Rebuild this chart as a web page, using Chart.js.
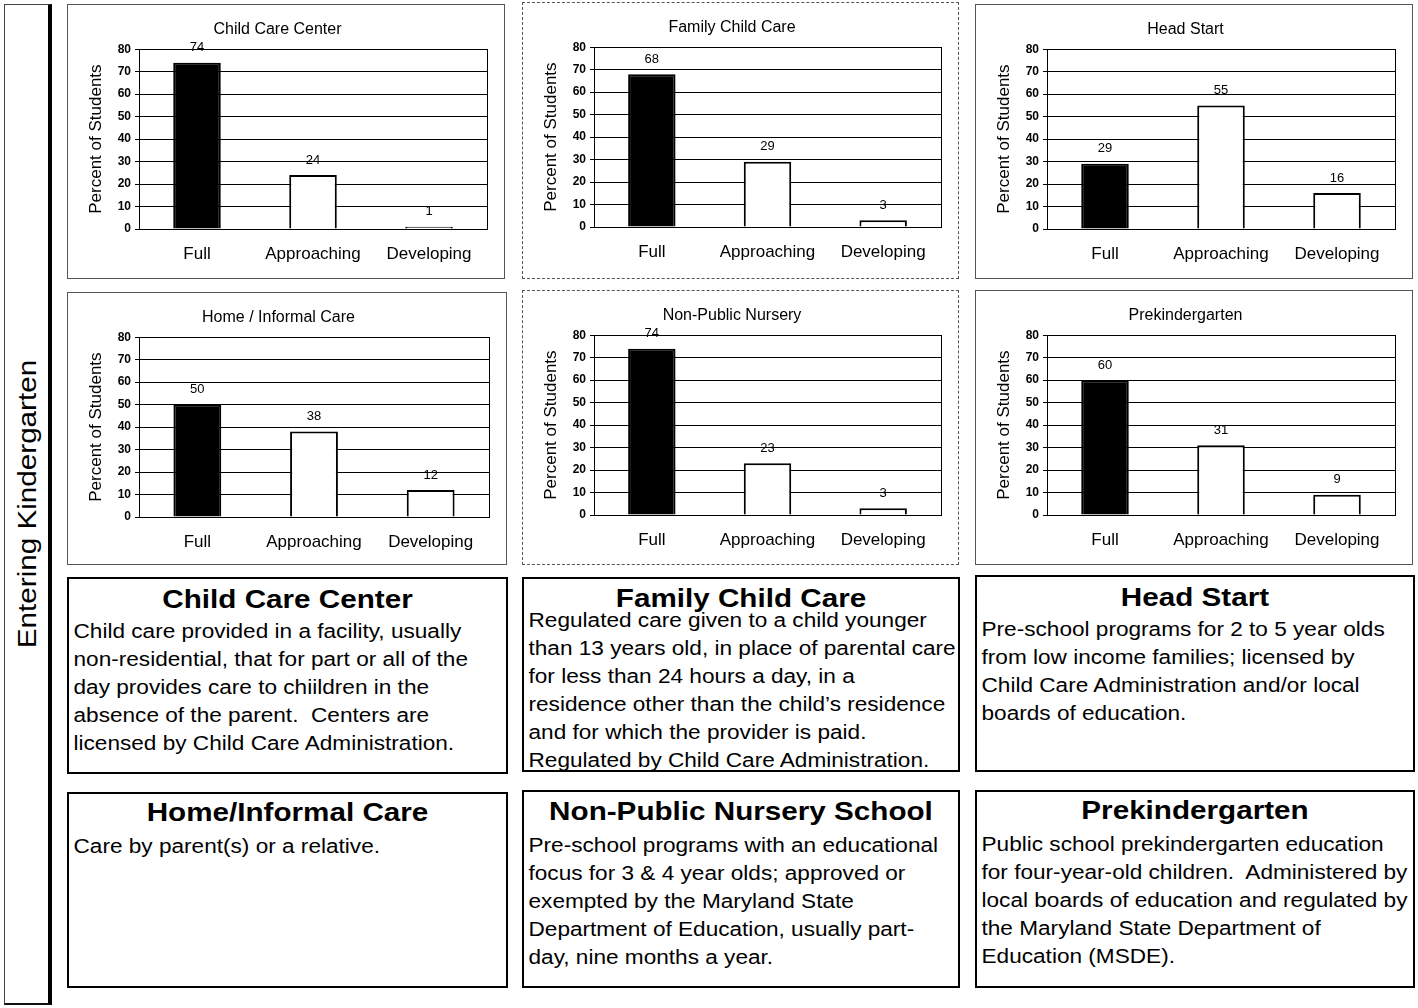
<!DOCTYPE html>
<html>
<head>
<meta charset="utf-8">
<script src="https://cdn.jsdelivr.net/npm/chart.js@4.4.1/dist/chart.umd.min.js"></script>
<style>
  body { margin: 0; background: #fff; font-family: "Liberation Sans", Arial, sans-serif; }
  #page { position: relative; width: 1418px; height: 1008px; overflow: hidden; }
  .side { position: absolute; left: 4px; top: 4px; width: 43px; height: 998px;
          border-left: 1px solid #444; border-top: 1px solid #444; border-bottom: 2px solid #111;
          border-right: 4px solid #000; }
  .side span { position: absolute; left: 50%; top: 50%;
               transform: translate(-50%, -50%) rotate(-90deg) scaleX(1.14);
               white-space: nowrap; font-size: 26px; color: #000; }
  .panel { position: absolute; border: 1px solid #555; box-sizing: border-box; }
  .panel.mid { border-style: dashed; }
  .panel canvas { position: absolute; left: 0; top: 0; }
  .box { position: absolute; border: 2px solid #000; box-sizing: border-box; color: #000; }
  .box h2 { margin: 0; font-size: 26px; font-weight: bold; text-align: center; white-space: nowrap;
            transform: scaleX(1.14); transform-origin: center; }
  .box p { margin: 0; padding-left: 4px; font-size: 20px; line-height: 28px; white-space: pre;
           transform: scaleX(1.13); transform-origin: left; }
</style>
</head>
<body>
<div id="page">
  <div class="side"><span>Entering Kindergarten</span></div>
</div>
<script>
const categories = ['Full', 'Approaching', 'Developing'];
const chartTitles = ['Child Care Center', 'Family Child Care', 'Head Start',
                     'Home / Informal Care', 'Non-Public Nursery', 'Prekindergarten'];
const childCareCenter = [74, 24, 1];
const familyChildCare = [68, 29, 3];
const headStart = [29, 55, 16];
const homeInformal = [50, 38, 12];
const nonPublicNursery = [74, 23, 3];
const prekindergarten = [60, 31, 9];
const seriesValues = [childCareCenter, familyChildCare, headStart, homeInformal, nonPublicNursery, prekindergarten];
const yMin = 0, yMax = 80, yStep = 10;

// panel boxes: left, top, width, height
const panels = [
  [67, 4, 438, 275], [522, 2, 437, 277], [975, 4, 438, 275],
  [67, 292, 440, 273], [522, 290, 437, 275], [975, 290, 438, 275]
];

const boxTitles = ['Child Care Center', 'Family Child Care', 'Head Start',
                   'Home/Informal Care', 'Non-Public Nursery School', 'Prekindergarten'];
const boxLines = [
  ['Child care provided in a facility, usually', 'non-residential, that for part or all of the',
   'day provides care to chiildren in the', 'absence of the parent.  Centers are',
   'licensed by Child Care Administration.'],
  ['Regulated care given to a child younger', 'than 13 years old, in place of parental care',
   'for less than 24 hours a day, in a', 'residence other than the child\u2019s residence',
   'and for which the provider is paid.', 'Regulated by Child Care Administration.'],
  ['Pre-school programs for 2 to 5 year olds', 'from low income families; licensed by',
   'Child Care Administration and/or local', 'boards of education.'],
  ['Care by parent(s) or a relative.'],
  ['Pre-school programs with an educational', 'focus for 3 & 4 year olds; approved or',
   'exempted by the Maryland State', 'Department of Education, usually part-',
   'day, nine months a year.'],
  ['Public school prekindergarten education', 'for four-year-old children.  Administered by',
   'local boards of education and regulated by', 'the Maryland State Department of',
   'Education (MSDE).']
];
// left, top, width, height, title top offset, body top offset
const boxes = [
  [67, 577, 441, 197, 4, 2], [522, 577, 438, 195, 3, -8], [975, 575, 440, 197, 4, 2],
  [67, 792, 441, 196, 2, 4], [522, 790, 438, 198, 3, 4], [975, 790, 440, 198, 2, 4]
];

const page = document.getElementById('page');
const fontFamily = '"Liberation Sans", Arial, sans-serif';

const valueLabels = {
  id: 'valueLabels',
  afterDatasetsDraw(chart) {
    const ctx = chart.ctx;
    const meta = chart.getDatasetMeta(0);
    ctx.save();
    ctx.font = '13px ' + fontFamily;
    ctx.fillStyle = '#000';
    ctx.textAlign = 'center';
    ctx.textBaseline = 'middle';
    meta.data.forEach((bar, i) => {
      ctx.fillText(chart.data.datasets[0].data[i], bar.x, bar.y - 15);
    });
    ctx.restore();
  }
};

const plotFrame = {
  id: 'plotFrame',
  afterDraw(chart) {
    const a = chart.chartArea;
    const ctx = chart.ctx;
    ctx.save();
    ctx.strokeStyle = '#000';
    ctx.lineWidth = 1;
    ctx.strokeRect(Math.round(a.left) + 0.5, Math.round(a.top) + 0.5,
                   Math.round(a.right - a.left), Math.round(a.bottom - a.top));
    ctx.restore();
  }
};

panels.forEach((p, i) => {
  const div = document.createElement('div');
  div.className = 'panel' + (i % 3 === 1 ? ' mid' : '');
  div.style.left = p[0] + 'px';
  div.style.top = p[1] + 'px';
  div.style.width = p[2] + 'px';
  div.style.height = p[3] + 'px';
  const canvas = document.createElement('canvas');
  const w = p[2] - 2, h = p[3] - 2;
  canvas.width = w;
  canvas.height = h;
  canvas.style.width = w + 'px';
  canvas.style.height = h + 'px';
  div.appendChild(canvas);
  page.appendChild(div);

  new Chart(canvas.getContext('2d'), {
    type: 'bar',
    data: {
      labels: categories,
      datasets: [{
        data: seriesValues[i],
        backgroundColor: ['#000', '#fff', '#fff'],
        borderColor: '#000',
        borderWidth: 2,
        categoryPercentage: 1,
        barPercentage: 0.41
      }]
    },
    options: {
      responsive: false,
      animation: false,
      layout: { padding: { left: 0, right: 17, top: 0, bottom: 0 } },
      plugins: {
        legend: { display: false },
        tooltip: { enabled: false },
        title: {
          display: true,
          text: chartTitles[i],
          color: '#000',
          font: { family: fontFamily, size: 16, weight: 'normal', lineHeight: 1.2 },
          padding: { top: 15, bottom: 10 }
        }
      },
      scales: {
        x: {
          grid: { display: false, drawTicks: false },
          border: { color: '#000' },
          ticks: {
            color: '#000', padding: 15,
            font: { family: fontFamily, size: 17 }
          },
          afterFit(scale) { scale.height = h - 224; }
        },
        y: {
          min: yMin, max: yMax,
          grid: { color: '#000', lineWidth: 1, tickLength: 4, tickColor: '#000' },
          border: { color: '#000' },
          ticks: {
            stepSize: yStep, color: '#000', padding: 4,
            font: { family: fontFamily, size: 12, weight: 'bold' }
          },
          title: {
            display: true,
            text: 'Percent of Students',
            color: '#000',
            font: { family: fontFamily, size: 17 },
            padding: { top: 18, bottom: 0 }
          },
          afterFit(scale) { scale.width = 71; }
        }
      }
    },
    plugins: [valueLabels, plotFrame]
  });
});

boxes.forEach((b, i) => {
  const div = document.createElement('div');
  div.className = 'box';
  div.style.left = b[0] + 'px';
  div.style.top = b[1] + 'px';
  div.style.width = b[2] + 'px';
  div.style.height = b[3] + 'px';
  const h2 = document.createElement('h2');
  h2.textContent = boxTitles[i];
  h2.style.marginTop = b[4] + 'px';
  h2.style.lineHeight = '32px';
  const p = document.createElement('p');
  p.textContent = boxLines[i].join('\n');
  p.style.marginTop = b[5] + 'px';
  div.appendChild(h2);
  div.appendChild(p);
  page.appendChild(div);
});
</script>
</body>
</html>
